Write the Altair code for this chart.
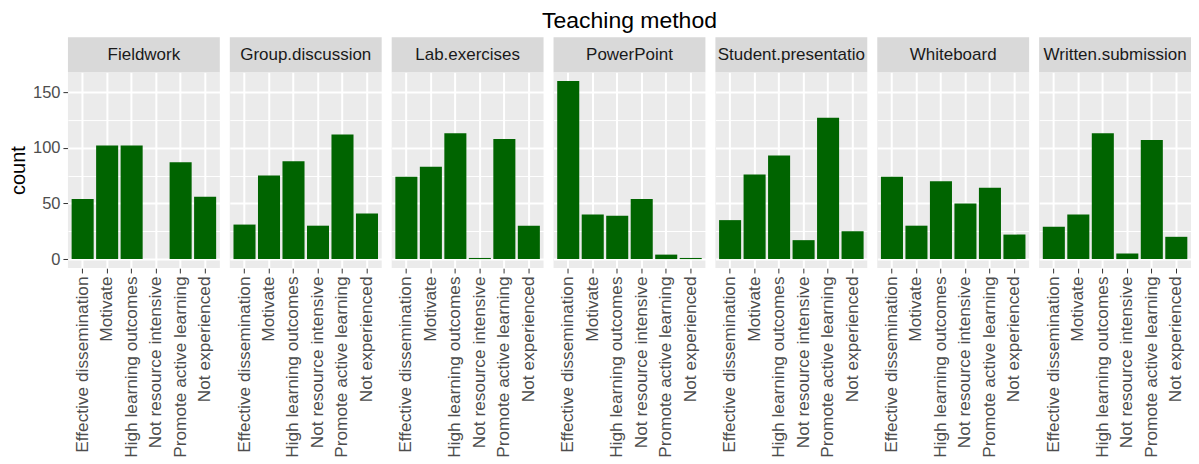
import altair as alt
import pandas as pd

methods = ["Fieldwork", "Group.discussion", "Lab.exercises", "PowerPoint",
           "Student.presentation", "Whiteboard", "Written.submissions"]
categories = ["Effective dissemination", "Motivate", "High learning outcomes",
              "Not resource intensive", "Promote active learning", "Not experienced"]

fieldwork = [54, 102, 102, 0, 87, 56]
group_discussion = [31, 75, 88, 30, 112, 41]
lab_exercises = [74, 83, 113, 1, 108, 30]
powerpoint = [160, 40, 39, 54, 4, 1]
student_presentation = [35, 76, 93, 17, 127, 25]
whiteboard = [74, 30, 70, 50, 64, 22]
written_submissions = [29, 40, 113, 5, 107, 20]

series = [fieldwork, group_discussion, lab_exercises, powerpoint,
          student_presentation, whiteboard, written_submissions]

rows = []
for m, vals in zip(methods, series):
    for c, v in zip(categories, vals):
        rows.append({"method": m, "reason": c, "count": v})
df = pd.DataFrame(rows)

FONT = "Liberation Sans"
W = 152
H = 196
STRIP = 35

bars = alt.Chart().mark_bar(color="#006400").encode(
    x=alt.X("reason:N", sort=categories, title=None,
            scale=alt.Scale(paddingInner=0.1, paddingOuter=0.15),
            axis=alt.Axis(labelAngle=270, labelAlign="right", labelBaseline="middle",
                          labelFontSize=17.3, labelColor="#4D4D4D", labelFont=FONT,
                          labelPadding=3, labelLimit=300,
                          tickColor="#333333", tickSize=5, tickWidth=1,
                          domain=False, grid=True, gridColor="white", gridWidth=2,
                          gridOpacity=1, bandPosition=0.5)),
    y=alt.Y("count:Q", title="count",
            scale=alt.Scale(domain=[-8, 168], nice=False, zero=False),
            axis=alt.Axis(values=[0, 25, 50, 75, 100, 125, 150],
                          labelExpr="datum.value % 50 === 0 ? datum.label : ''",
                          labelFontSize=16.5, labelColor="#4D4D4D", labelFont=FONT,
                          labelPadding=3,
                          tickColor={"condition": {"test": "datum.value % 50 === 0", "value": "#333333"}, "value": "transparent"},
                          tickSize=5, tickWidth=1,
                          domain=False, grid=True, gridColor="white", gridOpacity=1,
                          gridWidth={"condition": {"test": "datum.value % 50 === 0", "value": 2}, "value": 1},
                          titleFontSize=20, titleFont=FONT, titleColor="black",
                          titleFontWeight="normal", titlePadding=4)),
)

strip = alt.Chart().transform_aggregate(
    n="count()", groupby=["method"]
).mark_rect(color="#D9D9D9").encode(
    x=alt.value(0), x2=alt.value(W), y=alt.value(-STRIP), y2=alt.value(0)
)

strip_text = alt.Chart().transform_aggregate(
    n="count()", groupby=["method"]
).mark_text(font=FONT, fontSize=17, color="#1A1A1A", align="center",
            baseline="middle", limit=W - 2, ellipsis="\u200b").encode(
    text="method:N", x=alt.value(W / 2), y=alt.value(-STRIP / 2)
)

chart = alt.layer(bars, strip, strip_text, data=df).properties(
    width=W, height=H
).facet(
    column=alt.Column("method:N", sort=methods,
                      header=alt.Header(labels=False, title="Teaching method",
                                        titleFontSize=23, titleFont=FONT,
                                        titleColor="black", titleFontWeight="normal",
                                        titlePadding=-6))
).properties(
    spacing=10, padding={"left": 0, "top": 2, "right": 0, "bottom": 0}
).configure(
    font=FONT
).configure_view(
    fill="#EBEBEB", stroke="transparent", strokeWidth=0
)

chart.save("out.html", embed_options={"renderer": "svg", "actions": False})
